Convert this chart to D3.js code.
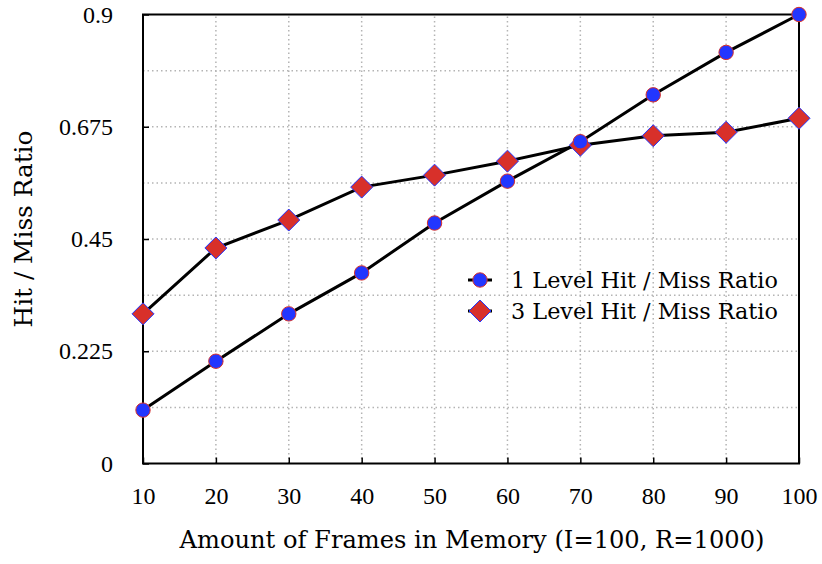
<!DOCTYPE html>
<html>
<head>
<meta charset="utf-8">
<script src="https://cdn.jsdelivr.net/npm/d3@7"></script>
<style>
  body { margin: 0; background: #fff; }
</style>
</head>
<body>
<svg id="chart" width="822" height="564"></svg>
<script>
// Frames in memory
const frames = [10, 20, 30, 40, 50, 60, 70, 80, 90, 100];
// Hit / miss ratios per configuration
const oneLevel = [0.107, 0.205, 0.300, 0.382, 0.482, 0.566, 0.645, 0.739, 0.824, 0.900];
const threeLevel = [0.300, 0.432, 0.488, 0.554, 0.578, 0.606, 0.638, 0.657, 0.664, 0.692];
const yTicks = [0, 0.225, 0.45, 0.675, 0.9];
const yGrid = [0.1125, 0.225, 0.3375, 0.45, 0.5625, 0.675, 0.7875];
const seriesNames = ["1 Level Hit / Miss Ratio", "3 Level Hit / Miss Ratio"];

const numFont = "Liberation Serif";
const textFont = "DejaVu Serif";

const svg = d3.select("#chart");
const m = { left: 143, right: 23, top: 14.5, bottom: 100.5 };
const W = 822, H = 564;
const x = d3.scaleLinear().domain([10, 100]).range([m.left, W - m.right]);
const y = d3.scaleLinear().domain([0, 0.9]).range([H - m.bottom, m.top]);

const blue = "#2236ff", red = "#d8302a";

// size a label so that it spans the given width
function fitText(sel, width) {
  sel.attr("font-size", 24);
  const w = sel.node().getComputedTextLength();
  sel.attr("font-size", (24 * width / w).toFixed(2));
  return sel;
}

// dotted grid
const grid = svg.append("g").attr("stroke", "#b4b4b4").attr("stroke-width", 1.5)
  .attr("stroke-dasharray", "1.5,3");
grid.selectAll(".vg").data(frames.slice(1, -1)).join("line")
  .attr("x1", d => x(d)).attr("x2", d => x(d)).attr("y1", y(0)).attr("y2", y(0.9));
grid.selectAll(".hg").data(yGrid).join("line")
  .attr("x1", x(10)).attr("x2", x(100)).attr("y1", d => y(d)).attr("y2", d => y(d));

// axes with inward ticks
const xAxis = d3.axisBottom(x).tickValues(frames).tickSize(-6).tickPadding(23).tickFormat(d3.format("d"));
const yAxis = d3.axisLeft(y).tickValues(yTicks).tickSize(-6).tickPadding(30).tickFormat(d => d3.format("~g")(d));
const gx = svg.append("g").attr("transform", `translate(0,${y(0)})`).call(xAxis);
const gy = svg.append("g").attr("transform", `translate(${x(10)},0)`).call(yAxis);
[gx, gy].forEach(g => {
  g.attr("font-family", numFont).attr("font-size", 24);
  g.select(".domain").remove();
  g.selectAll(".tick line").attr("stroke", "#000").attr("stroke-width", 1.5);
  g.selectAll(".tick text").attr("fill", "#000");
});

// frame
svg.append("rect").attr("x", x(10)).attr("y", y(0.9))
  .attr("width", x(100) - x(10)).attr("height", y(0) - y(0.9))
  .attr("fill", "none").attr("stroke", "#000").attr("stroke-width", 2);

// lines
const line = d3.line().x((d, i) => x(frames[i])).y(d => y(d));
[oneLevel, threeLevel].forEach(s => {
  svg.append("path").datum(s).attr("d", line).attr("fill", "none")
    .attr("stroke", "#000").attr("stroke-width", 3);
});

const diamond = (cx, cy, r) => `M${cx},${cy - r}L${cx + r},${cy}L${cx},${cy + r}L${cx - r},${cy}Z`;

// markers
svg.append("g").selectAll("path").data(threeLevel).join("path")
  .attr("d", (d, i) => diamond(x(frames[i]), y(d), 11))
  .attr("fill", red).attr("stroke", blue).attr("stroke-width", 1);
svg.append("g").selectAll("circle").data(oneLevel).join("circle")
  .attr("cx", (d, i) => x(frames[i])).attr("cy", d => y(d)).attr("r", 7.2)
  .attr("fill", blue).attr("stroke", red).attr("stroke-width", 1);

// legend
const lg = svg.append("g");
const ly = [280, 311];
seriesNames.forEach((name, i) => {
  lg.append("line").attr("x1", 468).attr("x2", 492).attr("y1", ly[i]).attr("y2", ly[i])
    .attr("stroke", "#000").attr("stroke-width", 3);
  if (i === 0) {
    lg.append("circle").attr("cx", 480).attr("cy", ly[i]).attr("r", 7.2)
      .attr("fill", blue).attr("stroke", red).attr("stroke-width", 1);
  } else {
    lg.append("path").attr("d", diamond(480, ly[i], 11))
      .attr("fill", red).attr("stroke", blue).attr("stroke-width", 1);
  }
  const t = lg.append("text").attr("x", 511).attr("y", ly[i] + 8)
    .attr("font-family", textFont).attr("fill", "#000").text(name);
  fitText(t, 267);
});

// axis titles
const xt = svg.append("text").attr("x", (x(10) + x(100)) / 2 + 1).attr("y", 548)
  .attr("text-anchor", "middle").attr("font-family", textFont).attr("fill", "#000")
  .text("Amount of Frames in Memory (I=100, R=1000)");
fitText(xt, 585);
const yt = svg.append("text").attr("transform", `translate(32,${(y(0) + y(0.9)) / 2 - 10}) rotate(-90)`)
  .attr("text-anchor", "middle").attr("font-family", textFont).attr("fill", "#000")
  .text("Hit / Miss Ratio");
fitText(yt, 197);
</script>
</body>
</html>
